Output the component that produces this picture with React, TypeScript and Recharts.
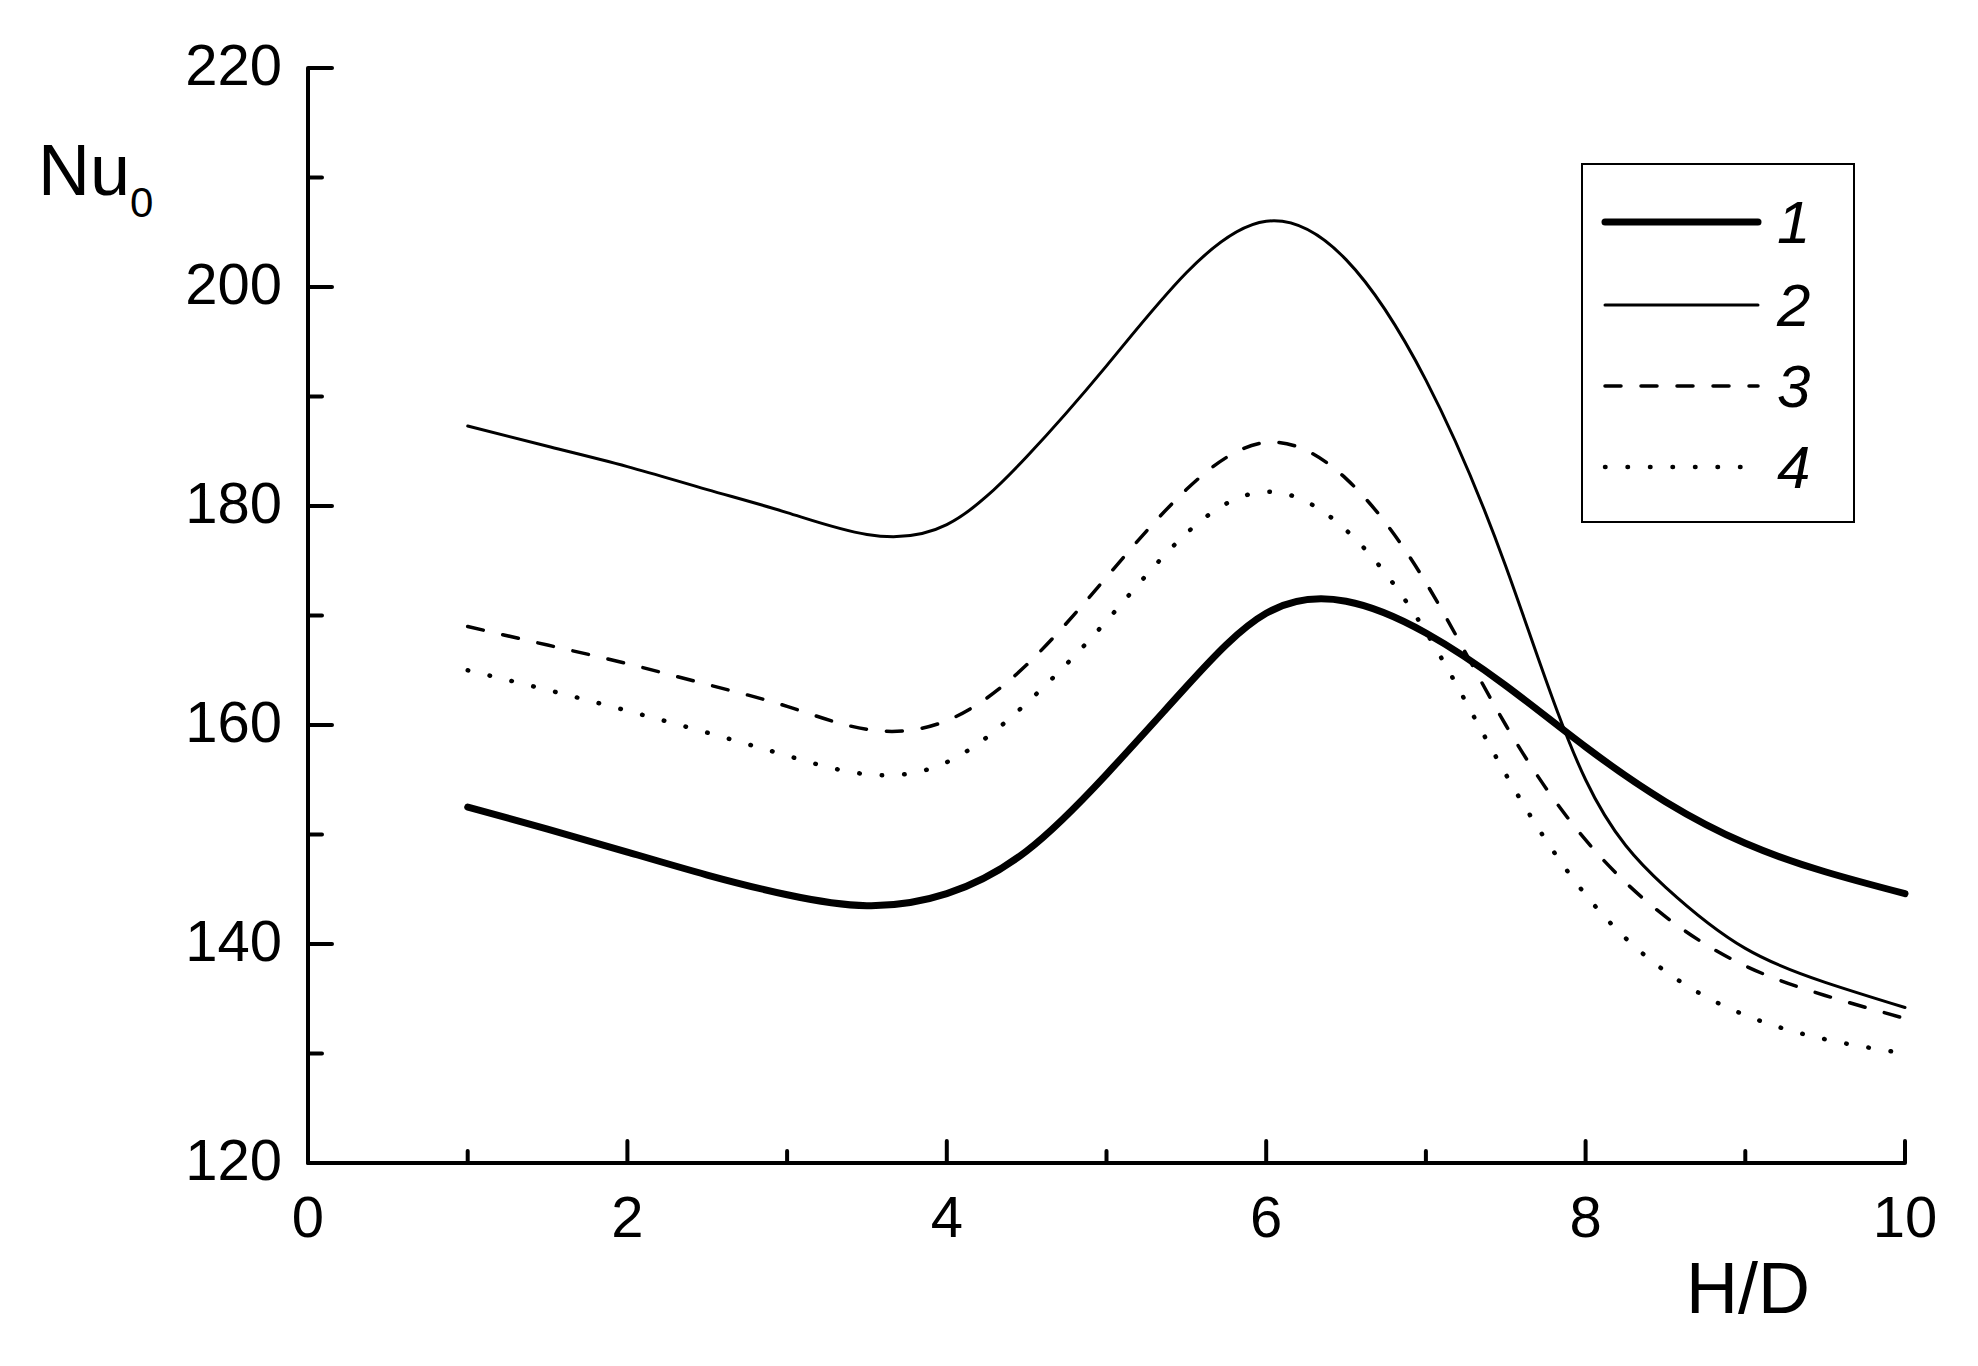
import { LineChart, Line, XAxis, YAxis, Legend } from 'recharts'

const hd = [1, 1.5, 2, 2.5, 3, 3.5, 4, 4.5, 5, 5.5, 6, 6.5, 7, 7.5, 8, 8.5, 9, 9.5, 10]
const nu1 = [152.5, 150.5, 148.4, 146.3, 144.5, 143.5, 144.6, 148.5, 155.5, 163.5, 170.2, 171.3, 168.4, 163.6, 158.0, 153.0, 149.2, 146.6, 144.6]
const nu2 = [187.3, 185.45, 183.6, 181.5, 179.4, 177.4, 178.3, 184.5, 192.8, 201.3, 206.0, 202.5, 191.5, 174.5, 155.0, 145.2, 139.6, 136.5, 134.2]
const nu3 = [169.0, 167.3, 165.6, 163.7, 161.7, 159.6, 160.4, 165.5, 173.5, 181.5, 185.8, 182.5, 173.0, 160.0, 149.5, 142.5, 138.0, 135.3, 133.2]
const nu4 = [165.0, 163.2, 161.3, 159.3, 157.2, 155.5, 156.6, 162.0, 169.5, 177.5, 181.3, 177.8, 168.5, 155.5, 144.5, 137.5, 133.5, 131.3, 130.0]

const xTicks = [0, 1, 2, 3, 4, 5, 6, 7, 8, 9, 10]
const yTicks = [120, 130, 140, 150, 160, 170, 180, 190, 200, 210, 220]

const series = [
  { key: 'c1', name: '1', width: 7, dash: undefined as string | undefined },
  { key: 'c2', name: '2', width: 3, dash: undefined as string | undefined },
  { key: 'c3', name: '3', width: 3.5, dash: '16 20' },
  { key: 'c4', name: '4', width: 4.5, dash: '0.5 22' },
]

const data = hd.map((x, i) => ({ x, c1: nu1[i], c2: nu2[i], c3: nu3[i], c4: nu4[i] }))

const FONT = '"Liberation Sans", Arial, sans-serif'

function XTick(props: any) {
  const { x, y, payload } = props
  const major = payload.value % 2 === 0
  return (
    <g>
      <line x1={x} x2={x} y1={y} y2={y - (major ? 22 : 12)} stroke="#000" strokeWidth={4} strokeLinecap="round" />
      {major && (
        <text x={x} y={y + 74} textAnchor="middle" fontSize={58} fontFamily={FONT} fill="#000">
          {payload.value}
        </text>
      )}
    </g>
  )
}

function YTick(props: any) {
  const { x, y, payload } = props
  const major = payload.value % 20 === 0
  return (
    <g>
      <line x1={x} x2={x + (major ? 24 : 14)} y1={y} y2={y} stroke="#000" strokeWidth={4} strokeLinecap="round" />
      {major && (
        <text x={x - 26} y={y + 17} textAnchor="end" fontSize={58} fontFamily={FONT} fill="#000">
          {payload.value}
        </text>
      )}
    </g>
  )
}

function LegendBox() {
  const rows = [57, 140, 221, 302]
  return (
    <div style={{ width: 274, height: 360, border: '2px solid #000', boxSizing: 'border-box', background: '#fff' }}>
      <svg width={270} height={356} style={{ display: 'block' }}>
        {series.map((s, i) => (
          <g key={s.key}>
            <line
              x1={22}
              x2={175}
              y1={rows[i]}
              y2={rows[i]}
              stroke="#000"
              strokeWidth={s.width}
              strokeDasharray={s.dash}
              strokeLinecap="round"
            />
            <text x={194} y={rows[i] + 21} fontSize={60} fontStyle="italic" fontFamily={FONT} fill="#000">
              {s.name}
            </text>
          </g>
        ))}
      </svg>
    </div>
  )
}

export default function App() {
  return (
    <div style={{ position: 'absolute', left: 0, top: 0, background: '#fff' }}>
      <LineChart width={1978} height={1366} data={data} margin={{ top: 68, right: 73, left: 0, bottom: 0 }}>
        <XAxis
          dataKey="x"
          type="number"
          domain={[0, 10]}
          ticks={xTicks}
          interval={0}
          height={203}
          tickSize={0}
          tickMargin={0}
          tickLine={false}
          axisLine={{ stroke: '#000', strokeWidth: 4 }}
          tick={<XTick />}
          label={{
            content: (p: any) => (
              <text x={p.viewBox.x + p.viewBox.width - 157} y={p.viewBox.y + 150} textAnchor="middle" fontSize={72} fontFamily={FONT} fill="#000">
                H/D
              </text>
            ),
          }}
        />
        <YAxis
          type="number"
          domain={[120, 220]}
          ticks={yTicks}
          interval={0}
          width={308}
          tickSize={0}
          tickMargin={0}
          tickLine={false}
          axisLine={{ stroke: '#000', strokeWidth: 4 }}
          tick={<YTick />}
          label={{
            content: (p: any) => (
              <text x={p.viewBox.x + 38} y={p.viewBox.y + 127} fontSize={72} fontFamily={FONT} fill="#000">
                Nu<tspan fontSize={42} dy={22}>0</tspan>
              </text>
            ),
          }}
        />
        <Legend
          layout="vertical"
          align="center"
          verticalAlign="middle"
          wrapperStyle={{ left: 1581, top: 163, width: 274, height: 360 }}
          content={() => <LegendBox />}
        />
        {series.map(s => (
          <Line
            key={s.key}
            dataKey={s.key}
            name={s.name}
            type="natural"
            stroke="#000"
            strokeWidth={s.width}
            strokeDasharray={s.dash}
            strokeLinecap="round"
            dot={false}
            activeDot={false}
            isAnimationActive={false}
          />
        ))}
      </LineChart>
    </div>
  )
}
